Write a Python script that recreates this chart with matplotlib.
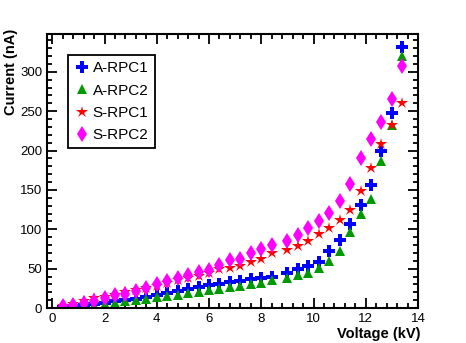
import matplotlib
matplotlib.use("Agg")
import matplotlib.pyplot as plt
from matplotlib.ticker import MultipleLocator

plt.rcParams['font.family'] = ['Liberation Sans', 'DejaVu Sans']

# voltage points (kV)
volt = [0.4, 0.8, 1.2, 1.6, 2.0, 2.4, 2.8, 3.2, 3.6, 4.0, 4.4, 4.8, 5.2, 5.6,
        6.0, 6.4, 6.8, 7.2, 7.6, 8.0, 8.4,
        9.0, 9.4, 9.8, 10.2, 10.6, 11.0, 11.4, 11.8, 12.2, 12.6, 13.0, 13.4]

# currents (nA)
a_rpc1 = [1, 2.5, 4, 5.5, 7, 8.5, 10.5, 12, 14, 16, 19, 21.5, 24.5, 26.5,
          29.5, 31, 33, 34.5, 36.5, 38, 39.5,
          44, 50, 53, 59, 72, 86, 107, 131, 156, 200, 247, 331]
a_rpc2 = [0.5, 1.5, 3, 4, 5.5, 7, 9, 10.5, 12, 13.5, 15, 16.5, 18.5, 20.5,
          22.5, 24.5, 26.5, 27.6, 30, 32, 35,
          37.5, 41.5, 44.5, 51, 60, 73, 97, 120, 138, 187, 233, 320]
s_rpc1 = [3, 5, 9.5, 13, 14, 17, 20, 23, 25.5, 28, 31.5, 35, 38, 41,
          44.5, 49, 51, 53.5, 58.5, 62.7, 70,
          73.3, 78.4, 85, 94.5, 101.7, 111.4, 124, 148.7, 178, 208, 233, 260]
s_rpc2 = [2, 4.3, 6.4, 9, 12.7, 16, 17.4, 21.6, 25.9, 30, 34.5, 38.3, 41.3, 46,
          48.8, 54, 61, 62.7, 70, 74.6, 79.7,
          85, 92.4, 101.7, 110, 120.7, 136, 158, 190, 214, 235.6, 266, 307]

fig = plt.figure(figsize=(4.66, 3.43), dpi=100)
ax = fig.add_axes([0.101, 0.102, 0.796, 0.799])

ax.plot(volt, a_rpc1, 'P', color='#0000ff', ms=8, mew=0, label='A-RPC1')
ax.plot(volt, a_rpc2, '^', color='#009900', ms=7.5, mew=0, label='A-RPC2')
ax.plot(volt, s_rpc1, '*', color='#ff0000', ms=9, mew=0, label='S-RPC1')
ax.plot(volt, s_rpc2, 'd', color='#ff00ff', ms=8.5, mew=0, label='S-RPC2')

ax.set_xlim(-0.2, 14)
ax.set_ylim(0, 348)
ax.xaxis.set_major_locator(MultipleLocator(2))
ax.xaxis.set_minor_locator(MultipleLocator(0.4))
ax.yaxis.set_major_locator(MultipleLocator(50))
ax.yaxis.set_minor_locator(MultipleLocator(10))
ax.tick_params(which='both', direction='in', top=True, right=True, width=1.3,
               labelsize=9.5)
ax.tick_params(which='major', length=7)
ax.tick_params(which='minor', length=3.5)
for s in ax.spines.values():
    s.set_linewidth(1.5)

ax.set_xlabel('Voltage (kV)', fontsize=10.5, fontweight='bold', loc='right')
ax.set_ylabel('Current (nA)', fontsize=10.5, fontweight='bold', loc='top')
ax.xaxis.set_label_coords(1.008, -0.069)
ax.yaxis.set_label_coords(-0.078, 1.02)

leg = ax.legend(loc='upper left', bbox_to_anchor=(0.057, 0.923), fontsize=11,
                fancybox=False, framealpha=1, edgecolor='black',
                borderaxespad=0, handletextpad=0.2, borderpad=0.4,
                labelspacing=0.55, handlelength=1.0)
leg.get_frame().set_linewidth(1.3)

fig.savefig('out.png', dpi=100)
